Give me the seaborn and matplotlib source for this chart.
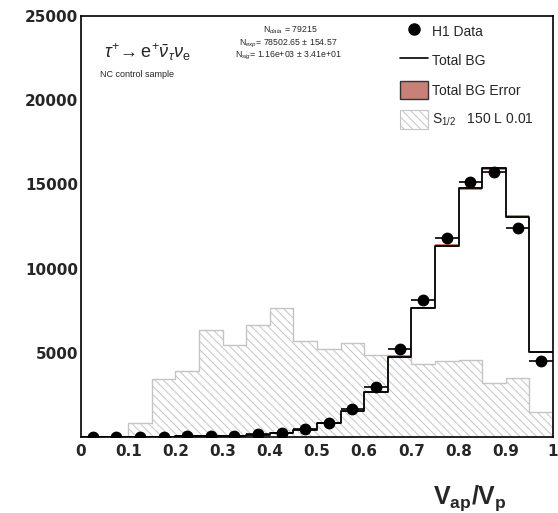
import numpy as np
import pandas as pd
import matplotlib
matplotlib.use("Agg")
import matplotlib.pyplot as plt
from matplotlib.lines import Line2D
from matplotlib.patches import Patch
from matplotlib.ticker import MultipleLocator
import seaborn as sns

# binning of V_ap/V_p (20 bins of 0.05)
bin_edges = np.linspace(0.0, 1.0, 21)
bin_centers = 0.5 * (bin_edges[:-1] + bin_edges[1:])

# H1 data (events per bin)
data_counts = [20, 15, 20, 15, 40, 30, 80, 160, 260, 480,
               810, 1650, 2980, 5200, 8110, 11790, 15140, 15740, 12430, 4520]

# total background expectation
bg_counts = [15, 15, 15, 15, 30, 30, 80, 140, 220, 440,
             810, 1530, 2660, 4780, 7660, 11370, 14760, 15950, 13080, 5040]
bg_err = [5, 5, 5, 5, 8, 8, 10, 12, 15, 20,
          25, 35, 45, 60, 75, 90, 105, 110, 95, 55]

# signal S_1/2, 150 L 0.01 (scaled)
sig_counts = [0, 0, 810, 3450, 3890, 6330, 5460, 6630, 7640, 5690,
              5220, 5560, 4840, 4780, 4350, 4500, 4600, 3180, 3530, 1470]

df = pd.DataFrame({"x": bin_centers, "bg": bg_counts, "sig": sig_counts})

W, H = 558, 513
sns.set_style("white")
plt.rcParams["font.family"] = ["Liberation Sans", "DejaVu Sans"]
plt.rcParams["mathtext.fontset"] = "custom"
plt.rcParams["mathtext.rm"] = "Liberation Sans"
plt.rcParams["mathtext.it"] = "Liberation Sans:italic"
plt.rcParams["mathtext.bf"] = "Liberation Sans:bold"
plt.rcParams["hatch.linewidth"] = 0.7

fig = plt.figure(figsize=(W / 100, H / 100), dpi=100)
ax = fig.add_axes([81 / W, 1 - 437 / H, (553 - 81) / W, (437 - 16) / H])

hatch_col = "#c4c4c4"
err_col = "#c98078"

# signal hatched histogram
sns.histplot(data=df, x="x", weights="sig", bins=list(bin_edges), element="step",
             fill=True, facecolor="white", edgecolor=hatch_col, hatch="\\\\\\\\",
             linewidth=1.0, alpha=1.0, ax=ax)

# background error band
bg_lo = np.array(bg_counts) - np.array(bg_err)
bg_hi = np.array(bg_counts) + np.array(bg_err)
ax.fill_between(bin_edges, np.append(bg_lo, bg_lo[-1]), np.append(bg_hi, bg_hi[-1]),
                step="post", color=err_col, linewidth=0)

# total background step line
sns.histplot(data=df, x="x", weights="bg", bins=list(bin_edges), element="step",
             fill=False, color="black", linewidth=1.3, ax=ax)

# data points
half_w = 0.5 * np.diff(bin_edges)
ax.errorbar(bin_centers, data_counts, xerr=half_w, yerr=np.sqrt(data_counts),
            fmt="o", color="black", markersize=7.5, elinewidth=1.2, capsize=0, zorder=5)

ax.set_xlim(0, 1)
ax.set_ylim(0, 25000)
ax.set_xlabel("")
ax.set_ylabel("")

xt = np.round(np.arange(0, 1.01, 0.1), 1)
ax.set_xticks(xt)
ax.set_xticklabels(["0" if v == 0 else ("1" if v == 1 else f"{v:.1f}") for v in xt])
yt = np.arange(0, 25001, 5000)
ax.set_yticks(yt)
ax.set_yticklabels(["" if v == 0 else str(v) for v in yt])
ax.xaxis.set_minor_locator(MultipleLocator(0.02))
ax.yaxis.set_minor_locator(MultipleLocator(1000))
ax.tick_params(axis="both", which="major", direction="in", length=11, width=1.2,
               top=False, right=False)
ax.tick_params(axis="both", which="minor", direction="in", length=5.5, width=1.0,
               top=False, right=False)
ax.tick_params(axis="y", which="major", pad=2)
ax.tick_params(axis="x", which="major", pad=5)
for lab in ax.get_xticklabels() + ax.get_yticklabels():
    lab.set_fontfamily("DejaVu Sans")
    lab.set_fontweight("bold")
    lab.set_fontsize(11)
for sp in ax.spines.values():
    sp.set_linewidth(1.2)
    sp.set_color("black")

# legend
handles = [
    Line2D([], [], marker="o", color="black", ls="none", markersize=8),
    Line2D([], [], color="black", lw=1.2),
    Patch(facecolor=err_col, edgecolor="#333333", linewidth=1.0),
    Patch(facecolor="white", edgecolor=hatch_col, hatch="\\\\\\\\", linewidth=0.8),
]
labels = ["H1 Data", "Total BG", "Total BG Error", r"S$_{1/2}$   150 L 0.01"]
ax.legend(handles, labels, loc="upper left", bbox_to_anchor=(0.676, 0.985),
          frameon=False, fontsize=10, borderpad=0, borderaxespad=0,
          handlelength=2.0, handleheight=1.7, handletextpad=0.3, labelspacing=0.75)

def fx(px):
    return px / W

def fy(py):
    return 1 - py / H

fig.text(fx(104), fy(52), r"$\tau^{+}\!\rightarrow \mathrm{e}^{+}\bar{\nu}_{\tau}\nu_{\mathrm{e}}$",
         fontsize=13, ha="left", va="center")
fig.text(fx(100), fy(75), "NC control sample", fontsize=6.5, ha="left", va="center")
fig.text(fx(290), fy(33), r"N$_{data}$ = 79215", fontsize=6.3, ha="center", va="baseline")
fig.text(fx(288), fy(45), r"N$_{exp}$= 78502.65 $\pm$ 154.57", fontsize=6.3, ha="center", va="baseline")
fig.text(fx(288), fy(57), r"N$_{sig}$= 1.16e+03 $\pm$ 3.41e+01", fontsize=6.3, ha="center", va="baseline")

fig.text(fx(470), fy(498), r"$\mathbf{V_{ap}/V_{p}}$", fontsize=18, ha="center", va="center")

fig.savefig("out.png", dpi=100)
